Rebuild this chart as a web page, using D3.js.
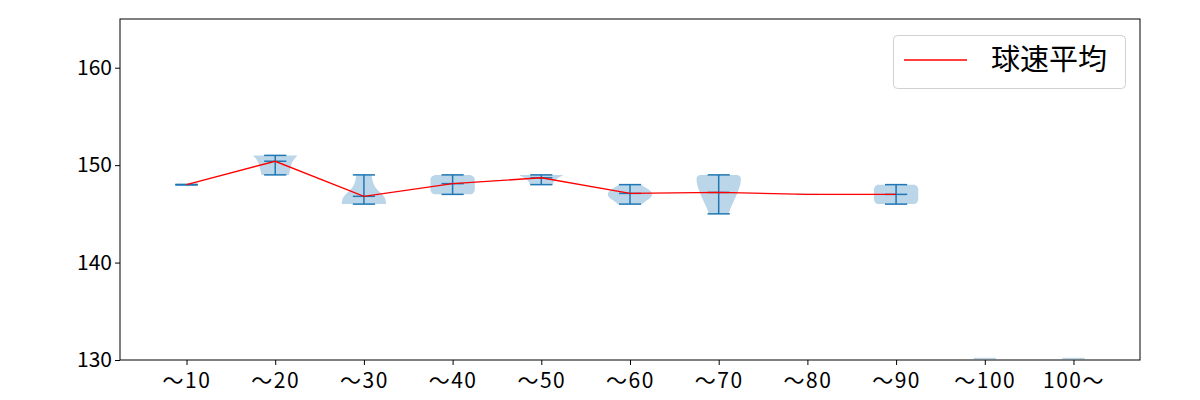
<!DOCTYPE html>
<html><head><meta charset="utf-8">
<script src="https://cdn.jsdelivr.net/npm/d3@7"></script>
<style>body{margin:0;background:#fff}svg{display:block}text{font-family:"Noto Sans CJK JP","Noto Sans",sans-serif}</style>
</head><body>
<svg id="c" width="1200" height="400"></svg>
<script>
const categories = ["〜10","〜20","〜30","〜40","〜50","〜60","〜70","〜80","〜90","〜100","100〜"];
const yTicks = [130, 140, 150, 160];
const means = [148, 150.4, 146.8, 148.1, 148.7, 147.1, 147.2, 147.0, 147.0, null, null];
const maxs  = [148, 151, 149, 149, 149, 148, 149, null, 148, null, null];
const mins  = [148, 149, 146, 147, 148, 146, 145, null, 146, null, null];
// violin outlines: [value, relative half-width]
const violin10  = [[148, 0.5]];
const violin20  = [[149, 0.62],[149.6, 0.68],[150.2, 0.75],[150.6, 0.85],[151, 1.0]];
const violin30  = [[146, 1.0],[146.5, 0.97],[147, 0.82],[147.5, 0.6],[148, 0.45],[148.5, 0.38],[149, 0.35]];
const violin40  = [[147, 0.85],[147.2, 0.95],[147.5, 1.0],[148, 1.0],[148.5, 1.0],[148.8, 0.95],[149, 0.8]];
const violin50  = [[148, 0.5],[148.2, 0.55],[148.4, 0.6],[148.6, 0.7],[148.8, 0.85],[149, 1.0]];
const violin60  = [[146, 0.55],[146.3, 0.7],[146.6, 0.9],[147, 1.0],[147.4, 0.9],[147.7, 0.7],[148, 0.5]];
const violin70  = [[145, 0.45],[145.5, 0.52],[146, 0.62],[146.5, 0.72],[147, 0.82],[147.5, 0.9],[148.1, 0.98],[148.6, 1.0],[148.85, 0.96],[149, 0.86]];
const violin80  = [[147, 0.5]];
const violin90  = [[146, 0.85],[146.2, 0.95],[146.5, 1.0],[147, 1.0],[147.5, 1.0],[147.8, 0.95],[148, 0.85]];
const violin100 = [[130.15, 0.5]];
const violinOver = [[130.15, 0.5]];
const violins = [violin10, violin20, violin30, violin40, violin50, violin60, violin70, violin80, violin90, violin100, violinOver];
const legendLabel = "球速平均";

const svg = d3.select("#c");
const L = 120, R = 1140, T = 19, B = 360;
const x = d3.scaleLinear().domain([0.25, 11.75]).range([L, R]);
const y = d3.scaleLinear().domain([130, 165]).range([B, T]);
const halfW = (x(1.25) - x(1));
const capW = halfW / 2;
const blue = "#1f77b4";

const g = svg.append("g");
// violins
violins.forEach((prof, i) => {
  const cx = x(i + 1);
  if (prof.length === 1) {
    g.append("line").attr("x1", cx - prof[0][1]*halfW).attr("x2", cx + prof[0][1]*halfW)
      .attr("y1", y(prof[0][0])).attr("y2", y(prof[0][0]))
      .attr("stroke", blue).attr("stroke-opacity", 0.3).attr("stroke-width", 1.5);
  } else {
    const area = d3.area().curve(d3.curveMonotoneY)
      .y(d => y(d[0])).x0(d => cx - d[1]*halfW).x1(d => cx + d[1]*halfW);
    g.append("path").attr("d", area(prof)).attr("fill", blue).attr("fill-opacity", 0.3);
  }
});
// extrema & means
categories.forEach((c, i) => {
  const cx = x(i + 1);
  if (maxs[i] == null) return;
  const s = g.append("g").attr("stroke", blue).attr("stroke-width", 1.5);
  s.append("line").attr("x1", cx).attr("x2", cx).attr("y1", y(mins[i])).attr("y2", y(maxs[i]));
  [maxs[i], mins[i], means[i]].forEach(v => {
    s.append("line").attr("x1", cx - capW).attr("x2", cx + capW).attr("y1", y(v)).attr("y2", y(v));
  });
});
// mean line
const pts = means.map((m, i) => [i + 1, m]).filter(d => d[1] != null);
g.append("path").datum(pts)
  .attr("d", d3.line().x(d => x(d[0])).y(d => y(d[1])))
  .attr("fill", "none").attr("stroke", "red").attr("stroke-width", 1.4);

// axes
const ya = svg.append("g").attr("transform", `translate(${L},0)`)
  .call(d3.axisLeft(y).tickValues(yTicks).tickSize(5).tickPadding(3));
const xa = svg.append("g").attr("transform", `translate(0,${B})`)
  .call(d3.axisBottom(x).tickValues(d3.range(1, 12)).tickFormat(d => categories[d - 1]).tickSize(5).tickPadding(8));
[ya, xa].forEach(a => {
  a.select(".domain").remove();
  a.selectAll("line").attr("stroke", "#000").attr("stroke-width", 1);
  a.selectAll("text").attr("fill", "#000").style("font-size", "21px").style("font-family", '"Noto Sans CJK JP",sans-serif');
});
xa.selectAll("text").style("letter-spacing", "1.5px");
svg.append("rect").attr("x", L).attr("y", T).attr("width", R - L).attr("height", B - T)
  .attr("fill", "none").attr("stroke", "#000").attr("stroke-width", 1);

// legend
const lg = svg.append("g");
lg.append("rect").attr("x", 893.5).attr("y", 35.5).attr("width", 232).attr("height", 53).attr("rx", 4)
  .attr("fill", "#fff").attr("fill-opacity", 0.8).attr("stroke", "#d0d0d0");
lg.append("line").attr("x1", 904).attr("x2", 967).attr("y1", 60).attr("y2", 60).attr("stroke", "red").attr("stroke-width", 1.5);
lg.append("text").attr("x", 991).attr("y", 70).text(legendLabel).style("font-size", "29px").attr("fill", "#000");
</script>
</body></html>
